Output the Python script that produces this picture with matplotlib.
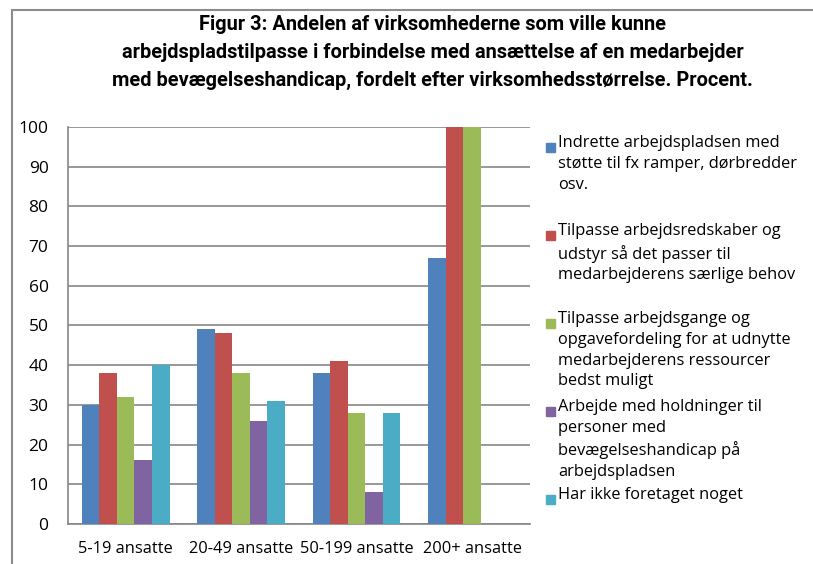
import matplotlib.pyplot as plt
from matplotlib.patches import Rectangle
import numpy as np

# Data
groups = ['5-19 ansatte', '20-49 ansatte', '50-199 ansatte', '200+ ansatte']
series = [
    'Indrette arbejdspladsen med\nstøtte til fx ramper, dørbredder\nosv.',
    'Tilpasse arbejdsredskaber og\nudstyr så det passer til\nmedarbejderens særlige behov',
    'Tilpasse arbejdsgange og\nopgavefordeling for at udnytte\nmedarbejderens ressourcer\nbedst muligt',
    'Arbejde med holdninger til\npersoner med\nbevægelseshandicap på\narbejdspladsen',
    'Har ikke foretaget noget',
]
indrette = [30, 49, 38, 67]
redskaber = [38, 48, 41, 100]
arbejdsgange = [32, 38, 28, 100]
holdninger = [16, 26, 8, 0]
intet = [40, 31, 28, 0]
values = [indrette, redskaber, arbejdsgange, holdninger, intet]
colors = ['#4F81BD', '#C0504D', '#9BBB59', '#8064A2', '#4BACC6']

title = ('Figur 3: Andelen af virksomhederne som ville kunne\n'
         'arbejdspladstilpasse i forbindelse med ansættelse af en medarbejder\n'
         'med bevægelseshandicap, fordelt efter virksomhedsstørrelse. Procent.')

fig = plt.figure(figsize=(8.13, 5.64), dpi=100)
ax = fig.add_axes([0.0836, 0.0709, 0.568, 0.704])

x = np.arange(len(groups))
w = 0.152
for i, vals in enumerate(values):
    ax.bar(x + (i - 2) * w, vals, width=w, color=colors[i], zorder=3)

ax.set_xlim(-0.5, len(groups) - 0.5)
ax.set_ylim(0, 100)
ax.set_yticks(range(0, 101, 10))
ax.set_xticks(x)
ax.set_xticklabels(groups, fontsize=11.8, family='Open Sans')
for lbl in ax.get_yticklabels():
    lbl.set_fontsize(12.5)
    lbl.set_family('Open Sans')
ax.tick_params(length=0)
ax.tick_params(axis='y', pad=14)
ax.tick_params(axis='x', pad=12)
ax.grid(axis='y', color='#868686', linewidth=1.2, zorder=0)
for s in ['top', 'right']:
    ax.spines[s].set_visible(False)
for s in ['left', 'bottom']:
    ax.spines[s].set_color('#868686')
    ax.spines[s].set_linewidth(1.2)

# title
fig.text(0.532, 0.974, title, ha='center', va='top', fontsize=14.4,
         fontweight='bold', family='Roboto', linespacing=1.62)

# outer frame
fig.patches.append(Rectangle((12 / 813, -0.1), 1.2, 1.1 - 10 / 564,
                             transform=fig.transFigure, fill=False,
                             edgecolor='#8c8c8c', linewidth=1.5))

# legend drawn by hand to follow the Excel layout
step = 88 / 564
for i, label in enumerate(series):
    ytop = 1 - (135 / 564) - i * step
    fig.patches.append(Rectangle((546 / 813, ytop - 17 / 564), 9 / 813, 9 / 564,
                                 transform=fig.transFigure, color=colors[i]))
    fig.text(558 / 813, ytop, label, ha='left', va='top', fontsize=11.8,
             family='Open Sans', linespacing=1.4)

fig.savefig('out.png', dpi=100)
